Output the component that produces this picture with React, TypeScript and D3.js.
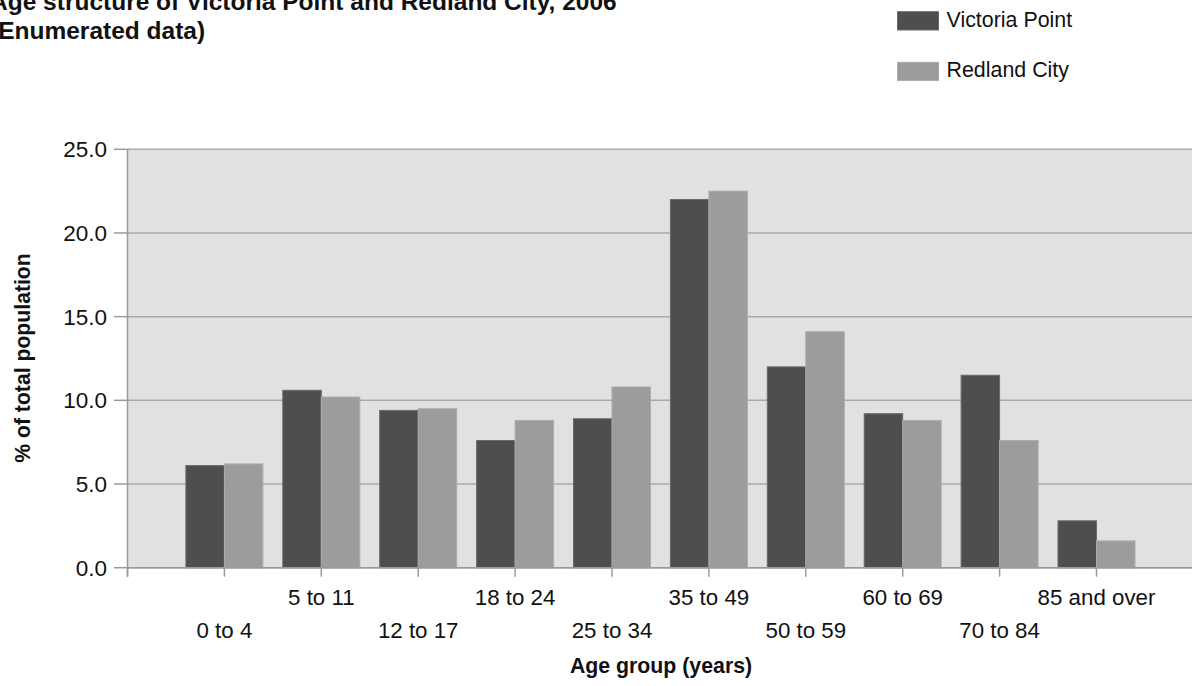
import React from "react";
import * as d3 from "d3";

const categories = ["0 to 4", "5 to 11", "12 to 17", "18 to 24", "25 to 34", "35 to 49", "50 to 59", "60 to 69", "70 to 84", "85 and over"];
const victoriaPoint = [6.1, 10.6, 9.4, 7.6, 8.9, 22.0, 12.0, 9.2, 11.5, 2.8];
const redlandCity = [6.2, 10.2, 9.5, 8.8, 10.8, 22.5, 14.1, 8.8, 7.6, 1.6];
const yTicks = [0, 5, 10, 15, 20, 25];
const seriesNames = ["Victoria Point", "Redland City"];

const W = 1192;
const H = 686;
const FONT = "'Liberation Sans', Arial, sans-serif";

export default function App() {
  const plotLeft = 127.5;
  const plotRight = 1210;
  const plotTop = 149.3;
  const plotBottom = 567.7;
  const step = 96.9;

  const x = d3
    .scaleBand<string>()
    .domain(categories)
    .range([plotLeft + step / 2, plotLeft + step / 2 + step * categories.length])
    .paddingInner(0)
    .paddingOuter(0);
  const y = d3.scaleLinear().domain([0, 25]).range([plotBottom, plotTop]);
  const barW = 38.5;
  const center = (c: string) => (x(c) as number) + x.bandwidth() / 2;

  const colors = ["#4e4e4e", "#9c9c9c"];
  const strokes = ["#6a6a6a", "#acacac"];
  const series = [victoriaPoint, redlandCity];

  const tickXs = [plotLeft, ...categories.map(center)];

  return (
    <svg width={W} height={H} style={{ position: "absolute", left: 0, top: 0 }} fontFamily={FONT}>
      <rect x={0} y={0} width={W} height={H} fill="#ffffff" />
      {/* Title */}
      <text x={-10} y={10} fontSize={24.5} fontWeight="bold" fill="#111">
        Age structure of Victoria Point and Redland City, 2006
      </text>
      <text x={-10} y={39} fontSize={24.5} fontWeight="bold" fill="#111">
        (Enumerated data)
      </text>

      {/* Legend */}
      {seriesNames.map((n, i) => (
        <g key={n}>
          <rect x={897.5} y={11.7 + i * 50.6} width={41} height={18.3} fill={colors[i]} stroke={strokes[i]} strokeWidth={1} />
          <text x={946.5} y={26.7 + i * 50.6} fontSize={21.4} fill="#111">
            {n}
          </text>
        </g>
      ))}

      {/* Plot background */}
      <rect x={plotLeft} y={plotTop} width={plotRight - plotLeft} height={plotBottom - plotTop} fill="#e1e1e1" />
      {/* Gridlines */}
      {yTicks.map((t) => (
        <line key={t} x1={plotLeft} x2={plotRight} y1={y(t)} y2={y(t)} stroke="#a9a9a9" strokeWidth={1.5} />
      ))}

      {/* Bars */}
      {categories.map((c, ci) =>
        series.map((s, si) => (
          <rect
            key={c + si}
            x={center(c) - barW + si * barW}
            y={y(s[ci])}
            width={barW}
            height={plotBottom - y(s[ci])}
            fill={colors[si]}
            stroke={strokes[si]}
            strokeWidth={1}
          />
        ))
      )}

      {/* Axes */}
      <line x1={plotLeft} x2={plotLeft} y1={plotTop} y2={plotBottom + 9} stroke="#9a9a9a" strokeWidth={1.5} />
      <line x1={plotLeft} x2={plotRight} y1={plotBottom} y2={plotBottom} stroke="#9a9a9a" strokeWidth={1.5} />
      {yTicks.map((t) => (
        <g key={t}>
          <line x1={114} x2={plotLeft} y1={y(t)} y2={y(t)} stroke="#9a9a9a" strokeWidth={1.5} />
          <text x={107} y={y(t) + 8} fontSize={22.5} textAnchor="end" fill="#111">
            {t.toFixed(1)}
          </text>
        </g>
      ))}
      {tickXs.map((tx, i) => (
        <line key={i} x1={tx} x2={tx} y1={plotBottom} y2={plotBottom + 9} stroke="#9a9a9a" strokeWidth={1.5} />
      ))}
      {categories.map((c, i) => (
        <text key={c} x={center(c)} y={i % 2 === 0 ? 637.7 : 605} fontSize={22.3} textAnchor="middle" fill="#111">
          {c}
        </text>
      ))}

      {/* Axis titles */}
      <text x={661} y={672.7} fontSize={21.3} fontWeight="bold" textAnchor="middle" fill="#111">
        Age group (years)
      </text>
      <text
        transform={`translate(30,${358}) rotate(-90)`}
        fontSize={21.2}
        fontWeight="bold"
        textAnchor="middle"
        fill="#111"
      >
        % of total population
      </text>
    </svg>
  );
}
